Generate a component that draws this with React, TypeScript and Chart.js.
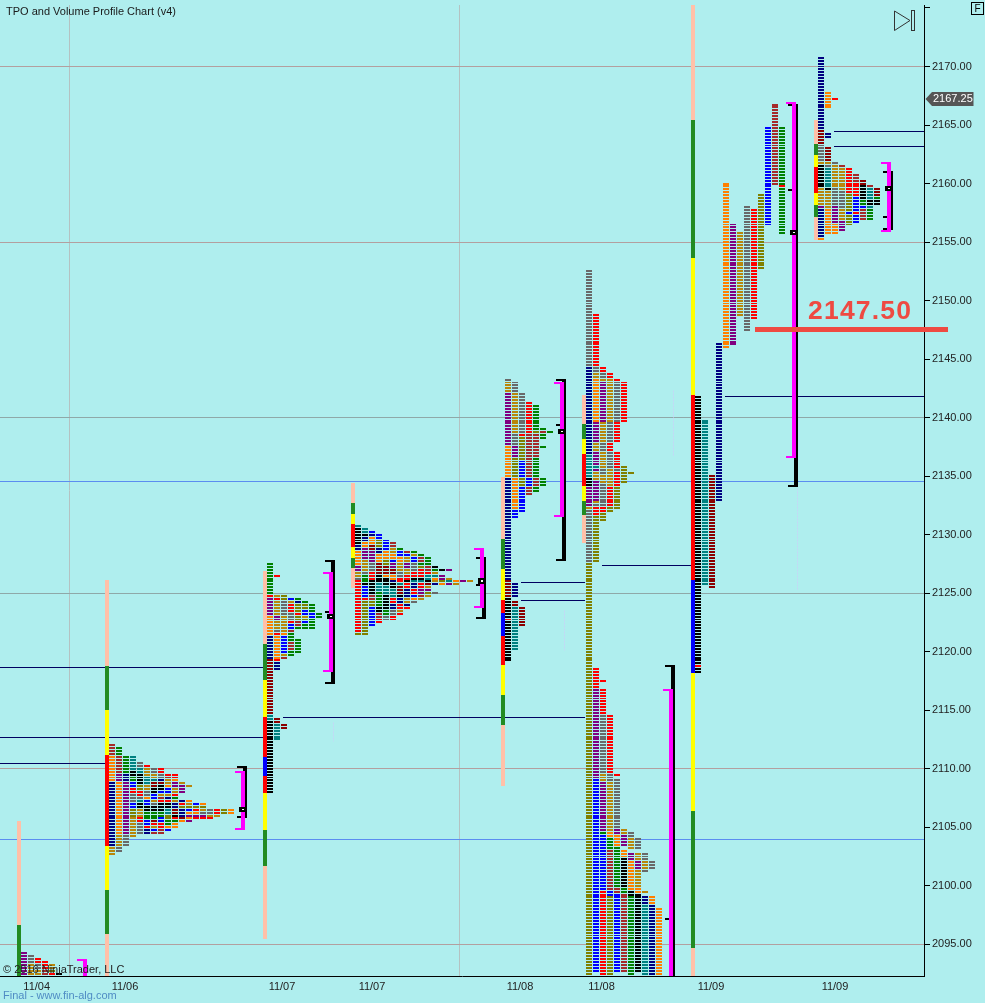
import React, { useEffect, useRef } from "react";
import { Chart, registerables } from "chart.js";

Chart.register(...registerables);

// ---------- axis data ----------
const yTickValues = [2095, 2100, 2105, 2110, 2115, 2120, 2125, 2130, 2135, 2140, 2145, 2150, 2155, 2160, 2165, 2170, 2175];
const unlabelledYTicks = [2175];
const roseGridPrices = [2095, 2110, 2155, 2170];
const slateGridPrices = [2125, 2140];
const blueLevels = [2104, 2134.58];
const xLabelSlots = [36.7, 125, 282, 372, 520, 601.5, 711, 835];
const xLabels = ["11/04", "11/06", "11/07", "11/07", "11/08", "11/08", "11/09", "11/09"];
const xGridSlots = [69, 459];
const lastPrice = 2167.25;
const markedPrice = 2147.6;
const markedPriceLabel = "2147.50";

// ---------- session bars: [top price, bottom price, colour key] ----------
type Seg = [number, number, string];
const segments1104: Seg[] = [[2105.54, 2096.65, "s"], [2096.65, 2092.29, "f"]];
const segments1106: Seg[] = [[2126.13, 2118.74, "s"], [2118.74, 2115.02, "f"], [2115.02, 2111.17, "w"], [2111.17, 2103.4, "R"], [2103.4, 2099.64, "w"], [2099.64, 2095.88, "f"], [2095.88, 2092.29, "s"]];
const segments1107a: Seg[] = [[2126.9, 2120.66, "s"], [2120.66, 2117.58, "f"], [2117.58, 2114.42, "w"], [2114.42, 2111, "R"], [2111, 2109.38, "B"], [2109.38, 2107.93, "R"], [2107.93, 2104.77, "w"], [2104.77, 2101.69, "f"], [2101.69, 2095.45, "s"]];
const segments1107b: Seg[] = [[2134.41, 2132.71, "s"], [2132.71, 2131.77, "f"], [2131.77, 2130.91, "w"], [2130.91, 2128.95, "R"], [2128.95, 2128.01, "w"], [2128.01, 2127.15, "f"], [2127.15, 2125.44, "s"]];
const segments1108a: Seg[] = [[2134.93, 2129.63, "s"], [2129.63, 2127.07, "f"], [2127.07, 2124.42, "w"], [2124.42, 2123.31, "R"], [2123.31, 2121.34, "B"], [2121.34, 2118.86, "R"], [2118.86, 2116.3, "w"], [2116.3, 2113.74, "f"], [2113.74, 2108.53, "s"]];
const segments1108b: Seg[] = [[2141.93, 2139.46, "s"], [2139.46, 2138.17, "f"], [2138.17, 2136.89, "w"], [2136.89, 2134.16, "R"], [2134.16, 2132.88, "w"], [2132.88, 2131.68, "f"], [2131.68, 2129.29, "s"]];
const segments1109a: Seg[] = [[2175.25, 2165.43, "s"], [2165.43, 2153.64, "f"], [2153.64, 2141.93, "w"], [2141.93, 2126.13, "R"], [2126.13, 2118.18, "B"], [2118.18, 2106.39, "w"], [2106.39, 2094.68, "f"], [2094.68, 2092.29, "s"]];
const segments1109b: Seg[] = [[2165.43, 2163.38, "s"], [2163.38, 2162.44, "f"], [2162.44, 2161.41, "w"], [2161.41, 2159.19, "R"], [2159.19, 2158.17, "w"], [2158.17, 2157.14, "f"], [2157.14, 2155.18, "s"]];

// ---------- TPO columns: [top price, colour runs going down in 0.25 steps, "_" = empty] ----------
type Col = [number, string];
const tpo1104: Col[] = [
  [2094.25, "P8"], [2094, "Y3 A4"], [2093.75, "R2 Y2 A2"], [2093.5, "R3 M2"], [2093.25, "A2 L1 R1"], [2092.5, "K1"],
];
const tpo1106: Col[] = [
  [2112, "M4 O9 N22 A3"],
  [2111.75, "G3 M6 P3 O18 A4 Y2"],
  [2111, "G6 N3 P18 Y4"],
  [2111, "T5 K2 G2 B2 R2 Y3 B2 L3 A7"],
  [2110.5, "Y2 T2 K4 L2 R2 Y1 T1 K2 A3 R2 Y4"],
  [2110.25, "R1 A3 T3 A2 Y2 O1 B2 K2 G3 B2 R1 N2"],
  [2110, "Y2 A2 T1 D2 K2 B2 A1 Y1 K2 G3 D1 R1 A1 B1 M1"],
  [2110, "R2 Y2 N1 D1 K2 B1 A1 M1 R1 K3 G2 B2 R2 M2"],
  [2109.5, "R1 M1 A2 O1 B2 A1 N1 R1 K2 T2 L2 G2 O1 B1"],
  [2109.5, "R2 O1 P2 A2 R1 G1 A1 N2 D2 K1 R1 G1 O2"],
  [2108.75, "A1 P3 _2 N1 R1 L1 N3 D1 O1"],
  [2108.5, "A1 _4 O1 A1 L1 B1 O1 P1 O1 P1"],
  [2107, "B1 L1 R1 O1 P1 R1"],
  [2107, "O1 L1 A1 Y1 P1 R1"],
  [2106.5, "Y2 A1 R1"],
  [2106.5, "R2 A1"],
  [2106.5, "L2"],
  [2106.5, "O2"],
];
const tpo1107a: Col[] = [
  [2127.5, "G11 R1 P6 O7 N8 D19 T2 K25"],
  [2126.5, "R1 _6 A1 R1 A5 P2 A3 Y1 R1 O8 R1 N3 _16 D2 T6"],
  [2124.75, "L2 Y5 A6 O1 B6 A1 M1 _22 D2"],
  [2124.5, "B1 A1 R3 Y3 R1 B2 M1 G3 M3 G2"],
  [2124.5, "G1 N1 L3 R1 L2 M2 G1 _3 G5"],
  [2124.25, "G1 L2 B2 A1 L1 B1 G2"],
  [2124, "G3 B2 G4"],
  [2123.25, "G2"],
];
const tpo1107b: Col[] = [
  [2130.75, "T1 K6 N2 O5 P2 A2 Y1 R18 L1"],
  [2130.5, "T2 K1 N2 O2 P4 A4 Y1 G3 K1 B4 R1 L12"],
  [2130.25, "B1 N1 O3 D2 P4 Y3 R3 K5 M2 L2 B7"],
  [2130, "B2 L3 N2 O3 D4 K3 T3 G5 K2 M2 R2"],
  [2129.5, "B4 O3 L2 D3 O1 K3 T3 K5 G2 Y2"],
  [2129.25, "M2 A2 O2 B1 P2 D2 O2 N1 K2 T3 R2 N2 Y2 R2"],
  [2128.75, "G1 B2 O2 A3 Y2 R2 T1 D3 K1 N2 R2 A1 R1"],
  [2128.5, "M1 B1 A2 P2 A2 R2 K1 R2 N3 A2 N1 R1"],
  [2128.5, "G1 A1 B2 Y3 R2 K1 T1 N2 R2 B1 O1 Y1"],
  [2128.25, "G1 M2 G1 L1 R3 K1 T1 R2 P2 M1 A1"],
  [2128, "G3 M2 R1 T2 K1 D1 A1 P1 L1 A1"],
  [2127.25, "K1 G1 A1 T1 O1 A1 N1 _2 Y1"],
  [2127, "K1 _1 P1 P1 L1 O1"],
  [2127, "P1 _2 A1 T1 P1"],
  [2126, "O1 A1"],
  [2126, "P1"],
  [2126, "A1"],
];
const tpo1108a: Col[] = [
  [2143.25, "Y1 A4 P18 O11 N35 D6 K7 R1 K14"],
  [2143, "Y4 A14 Y4 P4 L7 O11 B3 _22 N5 _1 D2 T15"],
  [2142, "Y14 R1 L8 B6 L3 B9 _32 D7"],
  [2141.25, "R11 M15 B3 M3"],
  [2141, "G9 L1 M8 G7 M3 G2"],
  [2139, "G1 M1 G2 _2 G1 _10 G3"],
  [2138.75, "G1"],
];
const tpo1108b: Col[] = [
  [2152.5, "Y33 N30 T8 K3 P7 A1 Y18 L141"],
  [2148.75, "R18 Y2 A2 O15 P7 A3 P5 T1 P1 A3 P7 A1 Y1 R3 L16 _36 R7 P31 B66"],
  [2144.25, "R2 Y2 A1 P14 A7 Y3 A6 Y2 A3 Y8 R2 L3 _54 R1 _2 R9 Y20 A3 P17 G1 B19 R29"],
  [2143.75, "R2 A15 Y7 R3 Y6 A6 R7 L2 _69 R20 Y3 A17 O2 G4 M14 B2 L27"],
  [2143.25, "R1 Y14 R7 _3 R6 Y1 R5 L8 _90 R1 _1 Y17 P2 O4 G14 M2 B27"],
  [2143, "R14 _15 L6 _118 A2 P4 _1 O3 K10 G2 M27"],
  [2135.25, "L1 _122 Y2 A4 _1 P3 O10 K2 G27"],
  [2104, "Y4 _1 A3 P3 A6 O2 K27"],
  [2102.75, "Y3 A3 Y1 _6 A1 _1 N3 T24"],
  [2102, "Y3 _9 O3 N24"],
  [2098, "O23"],
];
const tpo1109a: Col[] = [
  [2141.75, "K92 R1 K2"],
  [2139.75, "T57"],
  [2135, "D39"],
  [2146.25, "N54"],
  [2160, "O57"],
  [2156.5, "P42"],
  [2155.75, "A29"],
  [2158, "Y43"],
  [2157.75, "R38"],
  [2159, "L26"],
  [2164.75, "B34"],
  [2166.75, "M28"],
  [2164.75, "G20 R1 G16"],
];
const tpo1109b: Col[] = [
  [2170.75, "N25 D5 Y6 A1 K8 A6 P1 N10 O1"],
  [2167.75, "O6 _8 N2 _3 D5 A1 Y1 T7 K1 A6 O9"],
  [2167.25, "R1 _21 Y1 A8 Y6 P6 O4"],
  [2161.5, "M1 A8 Y6 A4 P4"],
  [2161.25, "R9 L6 B1 L4"],
  [2160.75, "M3 R5 B5 R1 B3"],
  [2160.25, "D2 K5 G2 B1 M4"],
  [2159.75, "M1 T4 K2 T1 G4"],
  [2159.5, "D3 G1 K2"],
];

const sessions: { bar: number; left: number; segments: Seg[]; tpo: Col[] }[] = [
  { bar: 19, left: 21, segments: segments1104, tpo: tpo1104 },
  { bar: 107, left: 109, segments: segments1106, tpo: tpo1106 },
  { bar: 265, left: 267, segments: segments1107a, tpo: tpo1107a },
  { bar: 353, left: 355, segments: segments1107b, tpo: tpo1107b },
  { bar: 503, left: 505, segments: segments1108a, tpo: tpo1108a },
  { bar: 584, left: 586, segments: segments1108b, tpo: tpo1108b },
  { bar: 693, left: 695, segments: segments1109a, tpo: tpo1109a },
  { bar: 816, left: 818, segments: segments1109b, tpo: tpo1109b },
];

// ---------- value-area brackets ----------
const AXIS_MIN = 2092.29;
const AXIS_MAX = 2175.255;
const rangeBrackets = [
  { at: 245, hi: 2110.15, lo: 2105.87, poc: 2106.5, marks: [] as number[] },
  { at: 333, hi: 2127.75, lo: 2117.32, poc: 2123.0, marks: [2123.4] },
  { at: 484, hi: 2128, lo: 2122.88, poc: 2126.04, marks: [2125.7] },
  { at: 564, hi: 2143.2, lo: 2127.83, poc: 2138.8, marks: [2139.4] },
  { at: 673, hi: 2118.78, lo: AXIS_MIN - 1, poc: null, marks: [2097.16] },
  { at: 796, hi: 2166.71, lo: 2134.16, poc: 2155.82, marks: [2159.45] },
  { at: 891, hi: 2160.99, lo: 2156.12, poc: 2159.58, marks: [2157.14] },
];
const valueBrackets = [
  { at: 85, hi: 2093.66, lo: AXIS_MIN - 1 },
  { at: 243, hi: 2109.72, lo: 2104.86 },
  { at: 331, hi: 2126.7, lo: 2118.35 },
  { at: 482, hi: 2128.77, lo: 2123.82 },
  { at: 562, hi: 2142.96, lo: 2131.6 },
  { at: 671, hi: 2116.73, lo: AXIS_MIN - 1 },
  { at: 794, hi: 2166.88, lo: 2136.63 },
  { at: 889, hi: 2161.76, lo: 2155.95 },
];

// ---------- untouched-level lines: [price, from, to] ----------
const nakedLevels: [number, number, number][] = [
  [2118.69, 0, 263], [2112.71, 0, 263], [2110.49, 0, 105], [2114.42, 283, 585],
  [2125.96, 521, 585], [2124.42, 521, 585], [2127.41, 602, 692], [2141.85, 725, 924],
  [2164.49, 834, 924], [2163.21, 834, 924],
];
const faintTraces: [number, number, number][] = [
  [797, 2134, 2125.3], [564, 2123.56, 2120.14], [333, 2114, 2112.4], [673, 2142.4, 2136.8],
];

// ---------- colours ----------
const palette: Record<string, string> = {
  N: "#000080", B: "#0000ff", R: "#ff0000", D: "#8b0000", M: "#a52a2a", G: "#008000", K: "#000000",
  T: "#008080", O: "#ff8000", P: "#800080", A: "#b8860b", Y: "#696969", L: "#808000",
  s: "#ffc0a8", f: "#228b22", w: "#ffff00",
};
const BG = "#afeeee";
const FONT = '"Liberation Sans", Arial, sans-serif';
const HALF_ROW = 0.085;

function segLine(list: { x: number; y: number }[], x0: number, x1: number, y: number) {
  list.push({ x: x0, y }, { x: x1, y }, { x: x1, y: NaN });
}

function buildDatasets(): any[] {
  const rows: Record<string, any[]> = {};
  const solid: Record<string, any[]> = {};
  for (const s of sessions) {
    for (const [hi, lo, key] of s.segments) (solid[key] ||= []).push({ x: s.bar, y: [lo, hi] });
    s.tpo.forEach(([top, runs], c) => {
      let p = top;
      for (const tok of runs.split(" ")) {
        const key = tok[0];
        const n = Number(tok.slice(1));
        for (let i = 0; i < n; i++) {
          if (key !== "_") (rows[key] ||= []).push({ x: s.left + 3 + 7 * c, y: [p - HALF_ROW, p + HALF_ROW] });
          p -= 0.25;
        }
      }
    });
  }
  const bar = (label: string, data: any[], color: string, thickness: number) => ({
    type: "bar", label, data, backgroundColor: color, barThickness: thickness, grouped: false, borderWidth: 0, inflateAmount: 0,
  });
  const line = (label: string, data: any[], color: string, width: number, extra: any = {}) => ({
    type: "line", label, data, borderColor: color, borderWidth: width, pointRadius: 0, spanGaps: false, tension: 0,
    borderCapStyle: "butt", fill: false, ...extra,
  });

  const blackHats: any[] = [];
  const magentaHats: any[] = [];
  for (const b of rangeBrackets) {
    segLine(blackHats, b.at - 8, b.at + 2, b.hi);
    if (b.lo > AXIS_MIN) segLine(blackHats, b.at - 8, b.at + 2, b.lo);
    for (const m of b.marks) segLine(blackHats, b.at - 8, b.at - 4, m);
  }
  for (const b of valueBrackets) {
    segLine(magentaHats, b.at - 8, b.at + 2, b.hi);
    if (b.lo > AXIS_MIN) segLine(magentaHats, b.at - 8, b.at + 2, b.lo);
  }
  const levels: any[] = [];
  for (const [p, a, b] of nakedLevels) segLine(levels, a, b, p);
  const faint: any[] = [];
  for (const [x, hi, lo] of faintTraces) faint.push({ x, y: hi }, { x, y: lo }, { x, y: NaN });

  const pocs = rangeBrackets.filter((b) => b.poc !== null);
  return [
    line("marked level", [{ x: 755, y: markedPrice }, { x: 948, y: markedPrice }], "#ee4a42", 5, { clip: false }),
    bar("poc hole", pocs.map((b) => ({ x: b.at - 2, y: [(b.poc as number) - 0.05, (b.poc as number) + 0.05] })), "#ffffff", 2),
    bar("poc", pocs.map((b) => ({ x: b.at - 2, y: [(b.poc as number) - 0.22, (b.poc as number) + 0.22] })), "#000000", 8),
    line("value hats", magentaHats, "#ff00ff", 2),
    bar("value area", valueBrackets.map((b) => ({ x: b.at, y: [b.lo, b.hi] })), "#ff00ff", 4),
    line("range hats", blackHats, "#000000", 2),
    bar("range", rangeBrackets.map((b) => ({ x: b.at, y: [b.lo, b.hi] })), "#000000", 4),
    ...Object.keys(solid).map((k) => bar("session " + k, solid[k], palette[k], 4)),
    ...Object.keys(rows).map((k) => bar("tpo " + k, rows[k], palette[k], 6)),
    line("levels", levels, "#000060", 1),
    ...blueLevels.map((p) => line("blue level " + p, [{ x: 0, y: p }, { x: 924, y: p }], "#5b8df0", 1)),
    line("traces", faint, "#c4d6f6", 1, { borderDash: [2, 1] }),
  ];
}

const pixelSnap = {
  id: "pixelSnap",
  afterDatasetsUpdate(chart: any) {
    chart.data.datasets.forEach((ds: any, i: number) => {
      const meta = chart.getDatasetMeta(i);
      for (const el of meta.data) {
        if (ds.type === "bar") {
          el.x = Math.round(el.x);
          el.y = Math.round(el.y);
          el.base = Math.round(el.base);
        } else if (Number.isFinite(el.y)) {
          el.y = Math.round(el.y) + (ds.borderWidth % 2 ? 0.5 : 0);
          el.x = Math.round(el.x) + (ds.label === "traces" ? 0.5 : 0);
        }
      }
    });
  },
};

const overlay = {
  id: "overlay",
  afterDraw(chart: any) {
    const ctx: CanvasRenderingContext2D = chart.ctx;
    ctx.save();
    ctx.textBaseline = "middle";
    ctx.textAlign = "left";
    const text = (s: string, x: number, y: number, font: string, color: string) => {
      ctx.font = font;
      ctx.fillStyle = color;
      ctx.fillText(s, x, y);
    };
    text("TPO and Volume Profile Chart (v4)", 6, 12, `11px ${FONT}`, "#1a1a1a");
    text("\u00a9 2016 NinjaTrader, LLC", 3, 970, `11px ${FONT}`, "#222222");
    text("Final - www.fin-alg.com", 3, 996, `11px ${FONT}`, "#4f8cc4");

    ctx.save();
    ctx.textBaseline = "alphabetic";
    (ctx as any).letterSpacing = "1.2px";
    text(markedPriceLabel, 808, 319, `bold 26.5px ${FONT}`, "#ee4a42");
    ctx.restore();

    // last-price tag
    const py = Math.round(chart.scales.y.getPixelForValue(lastPrice));
    ctx.fillStyle = "#555555";
    ctx.strokeStyle = "#bbbbbb";
    ctx.lineWidth = 1;
    ctx.beginPath();
    ctx.moveTo(925.5, py);
    ctx.lineTo(932, py - 7);
    ctx.lineTo(973.5, py - 7);
    ctx.lineTo(973.5, py + 7);
    ctx.lineTo(932, py + 7);
    ctx.closePath();
    ctx.fill();
    text(lastPrice.toFixed(2), 933, py, `11px ${FONT}`, "#ffffff");

    // "F" box
    ctx.strokeStyle = "#000000";
    ctx.strokeRect(971.5, 2.5, 12, 12);
    ctx.textAlign = "center";
    text("F", 977.5, 9, `10px ${FONT}`, "#000000");

    // play-to-end icon
    ctx.strokeStyle = "#333333";
    ctx.beginPath();
    ctx.moveTo(894.5, 11);
    ctx.lineTo(910, 20.5);
    ctx.lineTo(894.5, 30.5);
    ctx.closePath();
    ctx.stroke();
    ctx.strokeRect(911.5, 10.5, 3, 20);
    ctx.restore();
  },
};

export default function App() {
  const ref = useRef<HTMLCanvasElement | null>(null);
  useEffect(() => {
    document.body.style.margin = "0";
    document.body.style.background = BG;
    const chart = new Chart(ref.current as HTMLCanvasElement, {
      type: "bar",
      data: { datasets: buildDatasets() },
      plugins: [pixelSnap, overlay],
      options: {
        animation: false,
        responsive: false,
        devicePixelRatio: 1,
        layout: { autoPadding: false, padding: { top: 5, left: 0, right: 0, bottom: 0 } },
        plugins: { legend: { display: false }, title: { display: false }, tooltip: { enabled: false } },
        events: [],
        scales: {
          x: {
            type: "linear",
            min: 0,
            max: 924,
            offset: false,
            afterBuildTicks: (axis: any) => {
              axis.ticks = [...xLabelSlots, ...xGridSlots].map((value) => ({ value }));
            },
            afterFit: (axis: any) => {
              axis.height = 27;
              axis.paddingLeft = 0;
              axis.paddingRight = 0;
            },
            border: { color: "#000000", width: 1 },
            grid: {
              offset: false,
              drawTicks: false,
              color: (c: any) => (c.tick && xGridSlots.includes(c.tick.value) ? "#b4c2c2" : "rgba(0,0,0,0)"),
            },
            ticks: {
              autoSkip: false,
              maxRotation: 0,
              minRotation: 0,
              padding: 4,
              color: "#222222",
              font: { family: FONT, size: 11 },
              callback: (v: any) => {
                const i = xLabelSlots.indexOf(Number(v));
                return i >= 0 ? xLabels[i] : "";
              },
            },
          },
          y: {
            type: "linear",
            position: "right",
            min: AXIS_MIN,
            max: AXIS_MAX,
            afterBuildTicks: (axis: any) => {
              axis.ticks = yTickValues.map((value) => ({ value }));
            },
            afterFit: (axis: any) => {
              axis.width = 61;
              axis.paddingTop = 0;
              axis.paddingBottom = 0;
            },
            border: { color: "#000000", width: 1 },
            grid: {
              tickLength: 6,
              tickColor: "#000000",
              color: (c: any) => {
                const v = c.tick && c.tick.value;
                if (roseGridPrices.includes(v)) return "#b39f9f";
                if (slateGridPrices.includes(v)) return "#8fa8a8";
                return "rgba(0,0,0,0)";
              },
            },
            ticks: {
              autoSkip: false,
              padding: 2,
              color: "#222222",
              font: { family: FONT, size: 11 },
              callback: (v: any) => (unlabelledYTicks.includes(Number(v)) ? "" : Number(v).toFixed(2)),
            },
          },
        },
      },
    } as any);
    return () => chart.destroy();
  }, []);
  return (
    <div style={{ position: "absolute", left: 0, top: 0, width: 985, height: 1003, background: BG }}>
      <canvas ref={ref} width={985} height={1003} style={{ display: "block" }} />
    </div>
  );
}
